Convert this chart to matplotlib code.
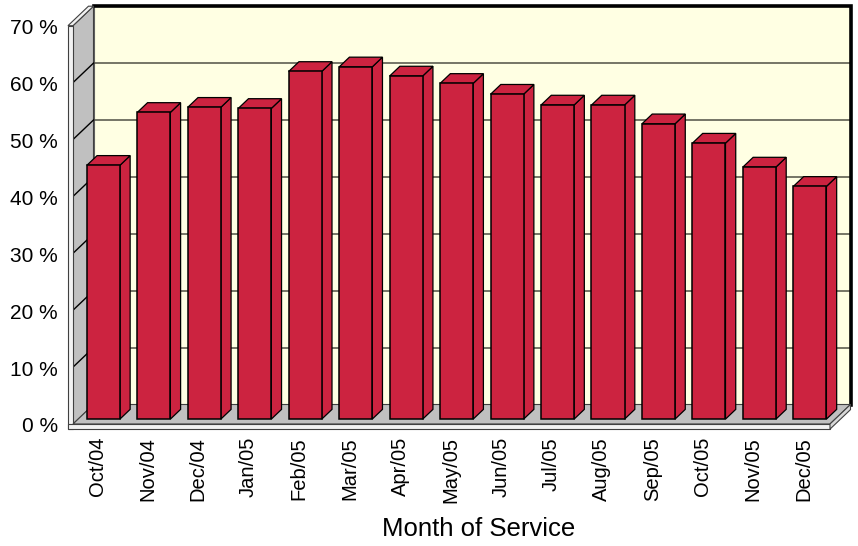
import numpy as np
import matplotlib
matplotlib.use("Agg")
import matplotlib.pyplot as plt
from matplotlib.patches import Polygon

plt.rcParams['font.family'] = ['Liberation Sans', 'DejaVu Sans']

# data
months = ['Oct/04', 'Nov/04', 'Dec/04', 'Jan/05', 'Feb/05', 'Mar/05', 'Apr/05',
          'May/05', 'Jun/05', 'Jul/05', 'Aug/05', 'Sep/05', 'Oct/05', 'Nov/05',
          'Dec/05']
share = [44.6, 53.9, 54.8, 54.6, 61.1, 61.9, 60.3, 59.0, 57.1, 55.2, 55.2,
         51.9, 48.5, 44.3, 40.9]
y_ticks = [0, 10, 20, 30, 40, 50, 60, 70]
y_labels = ['%d %%' % t for t in y_ticks]

bar_red = '#CC2340'
wall_yellow = '#FFFFE3'
wall_gray = '#C0C0C0'
slab_white = '#F2F2F2'

fig = plt.figure(figsize=(8.58, 5.46), dpi=100)
W, H = 858.0, 546.0
# front plane of the 3d box
ax = fig.add_axes([73 / W, 122 / H, 757 / W, 398.3 / H])
n = len(months)
ax.set_xlim(-0.5, n - 0.5)
ax.set_ylim(0, 70)
ax.axis('off')

# depth of the box in data units (oblique projection)
dx = 20.5 / (757 / n)
dy = 19.5 / (398.3 / 70)
thick_x = 0.1
thick_y = 0.9
xl, xr = -0.5, n - 0.5
top = y_ticks[-1]


def poly(pts, fc, ec='black', lw=0.8, z=1):
    ax.add_patch(Polygon(pts, closed=True, facecolor=fc, edgecolor=ec,
                         linewidth=lw, zorder=z, clip_on=False))


# back wall
poly([(xl + dx, dy), (xr + dx, dy), (xr + dx, top + dy), (xl + dx, top + dy)],
     wall_yellow, ec='#606060', lw=0.8, z=1)
ax.plot([xl + dx, xr + dx, xr + dx], [top + dy, top + dy, dy], color='black',
        lw=2.6, zorder=1.5, clip_on=False, solid_joinstyle='miter')

# left wall
poly([(xl, 0), (xl + dx, dy), (xl + dx, top + dy), (xl, top)], wall_gray,
     ec='#404040', lw=0.8, z=2)
poly([(xl - thick_x, -thick_y), (xl, -thick_y), (xl, top), (xl - thick_x, top)],
     slab_white, ec='#404040', lw=0.8, z=2.1)
poly([(xl - thick_x, top), (xl, top), (xl + dx, top + dy),
      (xl - thick_x + dx, top + dy)], slab_white, ec='#404040', lw=0.8, z=2.1)

# gridlines
for t in y_ticks[1:-1]:
    ax.plot([xl + dx, xr + dx], [t + dy, t + dy], color='#505045', lw=1.1,
            zorder=1.2, clip_on=False)
    ax.plot([xl, xl + dx], [t, t + dy], color='black', lw=1.0, zorder=2.05,
            clip_on=False)

# floor
poly([(xl, 0), (xr, 0), (xr + dx, dy), (xl + dx, dy)], wall_gray,
     ec='#404040', lw=0.8, z=3)
poly([(xl - thick_x, -thick_y), (xr, -thick_y), (xr, 0), (xl - thick_x, 0)],
     slab_white, ec='#404040', lw=0.8, z=3.1)
poly([(xr, -thick_y), (xr + dx, dy - thick_y), (xr + dx, dy), (xr, 0)],
     '#D8D8D8', ec='#404040', lw=0.8, z=3.1)

# bars
bw = 0.655
z0, z1 = 0.25, 0.75
for i, v in enumerate(share):
    a = i - bw / 2
    b = i + bw / 2
    fx, fy = z0 * dx, z0 * dy
    bx, by = z1 * dx, z1 * dy
    poly([(b + fx, fy), (b + bx, by), (b + bx, v + by), (b + fx, v + fy)],
         bar_red, lw=0.9, z=4)
    poly([(a + fx, v + fy), (b + fx, v + fy), (b + bx, v + by), (a + bx, v + by)],
         bar_red, lw=0.9, z=4)
    poly([(a + fx, fy), (b + fx, fy), (b + fx, v + fy), (a + fx, v + fy)],
         bar_red, lw=1.1, z=4.1)

# y labels
for t, lab in zip(y_ticks, y_labels):
    ax.annotate(lab, xy=(0, t), xycoords=('axes fraction', 'data'),
                xytext=(-15, -3), textcoords='offset pixels',
                ha='right', va='center', fontsize=15)

# x labels
for i, m in enumerate(months):
    ax.annotate(m, xy=(i, 0), xycoords='data', xytext=(-1, -13),
                textcoords='offset pixels', rotation=90,
                ha='center', va='top', fontsize=14.5)

fig.text(479 / W, 1 - 529 / H, 'Month of Service', ha='center', va='center',
         fontsize=18.5)

fig.savefig('out.png', dpi=100)
